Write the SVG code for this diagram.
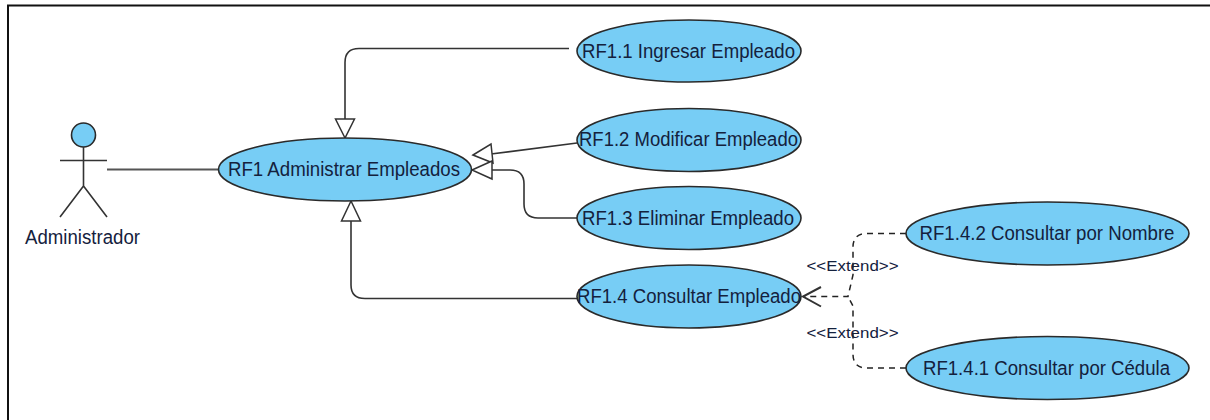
<svg xmlns="http://www.w3.org/2000/svg" width="1210" height="420" viewBox="0 0 1210 420">
<style>
text{font-family:"Liberation Sans",Arial,sans-serif;fill:#14213d;font-size:20px}
.uc{fill:#77cdf5;stroke:#2a2a2a;stroke-width:1.6}
.ln{fill:none;stroke:#333;stroke-width:1.6}
.th{fill:none;stroke:#555;stroke-width:2.2}
.tri{fill:#fff;stroke:#333;stroke-width:1.5;stroke-linejoin:miter}
.dash{fill:none;stroke:#222;stroke-width:1.5;stroke-dasharray:6 5}
.st{font-size:14.5px}
</style>
<rect width="1210" height="420" fill="#fff"/>
<path d="M8 420V5.500H1210" fill="none" stroke="#111" stroke-width="2"/>
<g id="connectors">
<path class="th" d="M107 169.500H218"/>
<path class="ln" d="M569 48.500H359Q345 48.500 345 62.500V119"/>
<path class="ln" d="M577 143L491 154"/>
<path class="ln" d="M492 170H510Q524 170 524 184V204Q524 218 538 218H577"/>
<path class="ln" d="M577 298.500H365Q351 298.500 351 285V221"/>
<path class="tri" d="M345 138L335.500 119H354.500Z"/>
<path class="tri" d="M473 155L491 144L493 163Z"/>
<path class="tri" d="M472 170L492 161V179Z"/>
<path class="tri" d="M351 201L341.500 221H360.500Z"/>
<path class="dash" d="M906 233.500H867Q853 233.500 853 247V275L848 296.500H803"/>
<path class="dash" d="M906 368H867Q853 368 853 354V306L848 296.500"/>
<path class="ln" d="M821 287L803 296.500L821 306.500" style="stroke-width:2"/>
</g>
<g id="actor-administrador">
<circle class="uc" cx="83.500" cy="135" r="12"/>
<path class="ln" d="M83.500 147V186M60 160.500H107M83.500 186L60 217M83.500 186L107 217"/>
<text x="25" y="243.500" textLength="115" lengthAdjust="spacingAndGlyphs">Administrador</text>
</g>
<g id="uc-rf1"><ellipse class="uc" cx="345" cy="169.500" rx="126.500" ry="31.500"/><text x="228" y="175.500" textLength="232" lengthAdjust="spacingAndGlyphs">RF1 Administrar Empleados</text></g>
<g id="uc-rf1-1"><ellipse class="uc" cx="689" cy="51" rx="112" ry="31"/><text x="582" y="57.500" textLength="213" lengthAdjust="spacingAndGlyphs">RF1.1 Ingresar Empleado</text></g>
<g id="uc-rf1-2"><ellipse class="uc" cx="689" cy="140" rx="112" ry="31.500"/><text x="579" y="146" textLength="219" lengthAdjust="spacingAndGlyphs">RF1.2 Modificar Empleado</text></g>
<g id="uc-rf1-3"><ellipse class="uc" cx="689" cy="218" rx="112" ry="31.500"/><text x="582" y="225" textLength="212" lengthAdjust="spacingAndGlyphs">RF1.3 Eliminar Empleado</text></g>
<g id="uc-rf1-4"><ellipse class="uc" cx="689" cy="296.500" rx="112" ry="31.500"/><text x="577" y="303" textLength="224" lengthAdjust="spacingAndGlyphs">RF1.4 Consultar Empleado</text></g>
<g id="uc-rf1-4-2"><ellipse class="uc" cx="1047.500" cy="233.500" rx="141.500" ry="31.500"/><text x="919.500" y="240" textLength="255" lengthAdjust="spacingAndGlyphs">RF1.4.2 Consultar por Nombre</text></g>
<g id="uc-rf1-4-1"><ellipse class="uc" cx="1047.500" cy="368" rx="141.500" ry="31.500"/><text x="923" y="374.500" textLength="247" lengthAdjust="spacingAndGlyphs">RF1.4.1 Consultar por Cédula</text></g>
<g id="labels">
<text class="st" x="806.500" y="271" textLength="92" lengthAdjust="spacingAndGlyphs">&lt;&lt;Extend&gt;&gt;</text>
<text class="st" x="806.500" y="338" textLength="92" lengthAdjust="spacingAndGlyphs">&lt;&lt;Extend&gt;&gt;</text>
</g>
</svg>
